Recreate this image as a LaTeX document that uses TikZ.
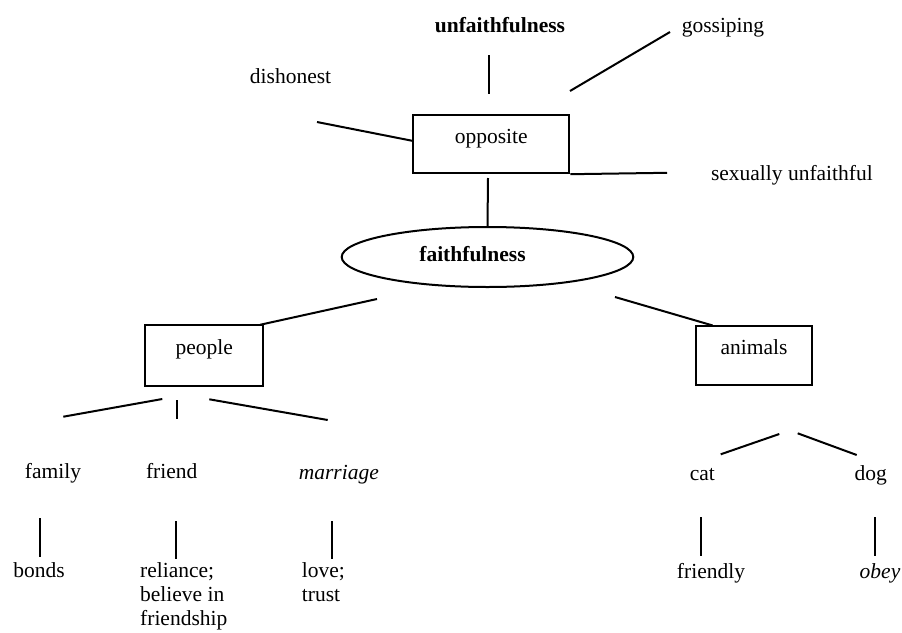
\documentclass[tikz,border=0pt]{standalone}
\usepackage{fontspec}
\setmainfont{Liberation Serif}
\usetikzlibrary{shapes.geometric}
\begin{document}
\begin{tikzpicture}[x=1pt,y=-1pt,
  every node/.style={font=\fontsize{21.5}{24}\selectfont, inner sep=0pt},
  lbl/.style={anchor=base},
  multi/.style={anchor=north west, align=left},
  boxnode/.style={draw, line width=2pt, rectangle},
  ovalnode/.style={draw, line width=2pt, ellipse},
  conn/.style={line width=2pt}]
\useasboundingbox (0,0) rectangle (902,632);

% boxes and oval
\node[boxnode, minimum width=156pt, minimum height=58pt, text height=15pt, text depth=17pt] (opp) at (491.3,144.2) {opposite};
\node[boxnode, minimum width=118pt, minimum height=61pt, text height=15pt, text depth=17pt] (people) at (204.2,355.5) {people};
\node[boxnode, minimum width=116.6pt, minimum height=59.3pt, text height=15pt, text depth=17pt] (animals) at (754,355.7) {animals};
\node[ovalnode, minimum width=291.6pt, minimum height=60pt] (faith) at (487.5,257) {};
\node[lbl] (faithtext) at (472.5,261.7) {\textbf{faithfulness}};

% labels
\node[lbl] (unfaith) at (500,32) {\textbf{unfaithfulness}};
\node[lbl] (gossip) at (723,32) {gossiping};
\node[lbl] (dishon) at (290.6,83.3) {dishonest};
\node[lbl] (sexual) at (791.9,180.7) {sexually unfaithful};
\node[lbl] (family) at (53,478.5) {family};
\node[lbl] (friend) at (171.7,478.5) {friend};
\node[lbl] (marriage) at (338.8,479) {\textit{marriage}};
\node[lbl] (cat) at (702.3,480) {cat};
\node[lbl] (dog) at (870.8,480) {dog};
\node[lbl] (bonds) at (39,577) {bonds};
\node[multi] (reliance) at (140,562.3) {reliance;\\believe in\\friendship};
\node[multi] (love) at (301.7,562.3) {love;\\trust};
\node[lbl] (friendly) at (711,578) {friendly};
\node[lbl] (obey) at (880,578) {\textit{obey}};

% connector ends
\coordinate (u1) at (488.7,55);
\coordinate (u2) at (488.7,94);
\coordinate (g1) at (670,32);
\coordinate (g2) at (570,91);
\coordinate (d1) at (317,122);
\coordinate (d2) at (413.3,141);
\coordinate (s2) at (667,172.8);
\coordinate (o1) at (488,178);
\coordinate (p1) at (377,299);
\coordinate (p2) at (260,324.8);
\coordinate (a1) at (615,297);
\coordinate (a2) at (712.7,325.5);
\coordinate (fa1) at (162.3,399);
\coordinate (fa2) at (63.3,416.7);
\coordinate (fr1) at (176.7,400);
\coordinate (fr2) at (176.7,419.3);
\coordinate (ma1) at (209.3,399.3);
\coordinate (ma2) at (327.7,420);
\coordinate (bo1) at (40,518);
\coordinate (bo2) at (40,557);
\coordinate (re1) at (176,521);
\coordinate (re2) at (176,559);
\coordinate (lo1) at (331.7,521);
\coordinate (lo2) at (331.7,559);
\coordinate (ca1) at (779.3,434);
\coordinate (ca2) at (720.7,454.3);
\coordinate (do1) at (797.7,433.3);
\coordinate (do2) at (856.7,455);
\coordinate (fl1) at (700.7,517);
\coordinate (fl2) at (700.7,556);
\coordinate (ob1) at (875.3,517);
\coordinate (ob2) at (875.3,556);

% connectors
\draw[conn] (u1) -- (u2);
\draw[conn] (g1) -- (g2);
\draw[conn] (d1) -- (d2);
\draw[conn] (opp.south east) -- (s2);
\draw[conn] (o1) -- (faith.north);
\draw[conn] (p1) -- (p2);
\draw[conn] (a1) -- (a2);
\draw[conn] (fa1) -- (fa2);
\draw[conn] (fr1) -- (fr2);
\draw[conn] (ma1) -- (ma2);
\draw[conn] (bo1) -- (bo2);
\draw[conn] (re1) -- (re2);
\draw[conn] (lo1) -- (lo2);
\draw[conn] (ca1) -- (ca2);
\draw[conn] (do1) -- (do2);
\draw[conn] (fl1) -- (fl2);
\draw[conn] (ob1) -- (ob2);
\end{tikzpicture}
\end{document}
